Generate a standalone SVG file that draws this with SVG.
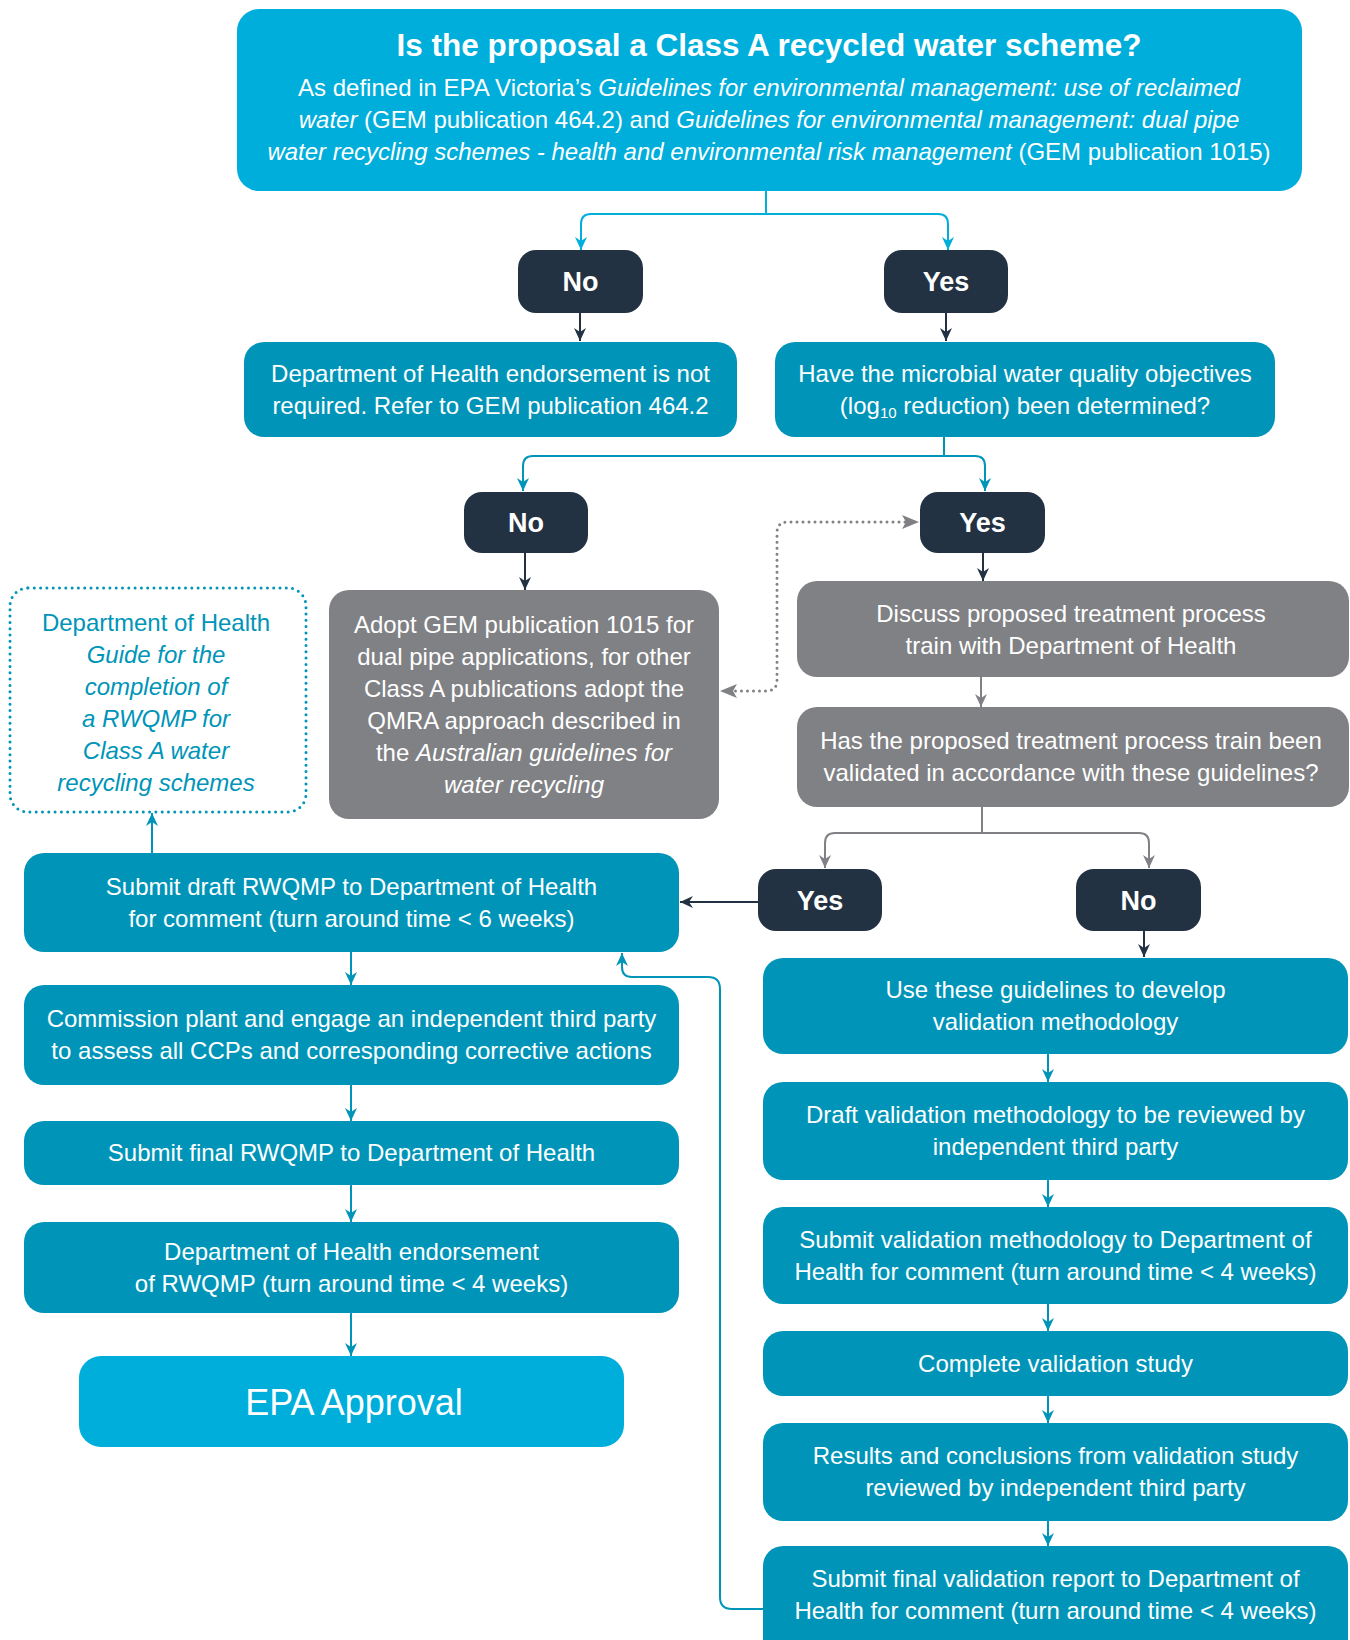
<svg xmlns="http://www.w3.org/2000/svg" width="1350" height="1640" viewBox="0 0 1350 1640">
<defs>
<style>
text{font-family:"Liberation Sans",Arial,Helvetica,sans-serif;fill:#fff;text-anchor:middle}
.b{font-size:24px}
.t{font-size:31.5px;font-weight:bold}
.yn{font-size:27px;font-weight:bold}
.i{font-style:italic}
.cyan{fill:#00AEDB}
.teal{fill:#0095B8}
.dark{fill:#233242}
.gray{fill:#808184}
.lc{fill:none;stroke:#00AEDB;stroke-width:2}
.lt{fill:none;stroke:#0095B8;stroke-width:2}
.ld{fill:none;stroke:#233242;stroke-width:2}
.lg{fill:none;stroke:#808184;stroke-width:2}
.dot{fill:none;stroke:#808184;stroke-width:3;stroke-dasharray:0 6;stroke-linecap:round}
.note{fill:none;stroke:#0095B8;stroke-width:3;stroke-dasharray:0 6.3;stroke-linecap:round}
.nt{fill:#0095B8}
</style>
<marker id="ac" markerUnits="userSpaceOnUse" markerWidth="13" markerHeight="14" refX="13" refY="7" orient="auto"><path d="M0,1 L13,7 L0,13 L4,7 Z" fill="#00AEDB"/></marker>
<marker id="at" markerUnits="userSpaceOnUse" markerWidth="13" markerHeight="14" refX="13" refY="7" orient="auto"><path d="M0,1 L13,7 L0,13 L4,7 Z" fill="#0095B8"/></marker>
<marker id="ad" markerUnits="userSpaceOnUse" markerWidth="13" markerHeight="14" refX="13" refY="7" orient="auto"><path d="M0,1 L13,7 L0,13 L4,7 Z" fill="#233242"/></marker>
<marker id="ag" markerUnits="userSpaceOnUse" markerWidth="13" markerHeight="14" refX="13" refY="7" orient="auto"><path d="M0,1 L13,7 L0,13 L4,7 Z" fill="#808184"/></marker>
<marker id="agb" markerUnits="userSpaceOnUse" markerWidth="17" markerHeight="16" refX="17" refY="8" orient="auto"><path d="M0,1 L17,8 L0,15 L4,8 Z" fill="#808184"/></marker>
</defs>
<rect width="1350" height="1640" fill="#fff"/>

<g id="connectors">
<path class="lc" d="M766,191 V214 M766,214 H591 Q581,214 581,224 V250" marker-end="url(#ac)"/>
<path class="lc" d="M766,214 H938 Q948,214 948,224 V250" marker-end="url(#ac)"/>
<path class="ld" d="M580,313 V341" marker-end="url(#ad)"/>
<path class="ld" d="M946,313 V341" marker-end="url(#ad)"/>
<path class="lt" d="M944,437 V456 M944,456 H533 Q523,456 523,466 V491" marker-end="url(#at)"/>
<path class="lt" d="M944,456 H975 Q985,456 985,466 V491" marker-end="url(#at)"/>
<path class="ld" d="M525,553 V590" marker-end="url(#ad)"/>
<path class="ld" d="M983,553 V581" marker-end="url(#ad)"/>
<path class="dot" d="M905,522 H788 Q777,522 777,533 V680 Q777,691 766,691 H735"/>
<path d="M905,522 H919" stroke="none" fill="none" marker-end="url(#agb)"/>
<path d="M735,691 H720" stroke="none" fill="none" marker-end="url(#agb)"/>
<path class="lg" d="M981,677 V707" marker-end="url(#ag)"/>
<path class="lg" d="M982,807 V833 M982,833 H835 Q825,833 825,843 V868" marker-end="url(#ag)"/>
<path class="lg" d="M982,833 H1139 Q1149,833 1149,843 V868" marker-end="url(#ag)"/>
<path class="ld" d="M758,902 H680" marker-end="url(#ad)"/>
<path class="ld" d="M1144,931 V957" marker-end="url(#ad)"/>
<path class="lt" d="M152,853 V813" marker-end="url(#at)"/>
<path class="lt" d="M351,952 V985" marker-end="url(#at)"/>
<path class="lt" d="M351,1085 V1121" marker-end="url(#at)"/>
<path class="lt" d="M351,1185 V1222" marker-end="url(#at)"/>
<path class="lt" d="M351,1313 V1356" marker-end="url(#at)"/>
<path class="lt" d="M1048,1054 V1082" marker-end="url(#at)"/>
<path class="lt" d="M1048,1180 V1207" marker-end="url(#at)"/>
<path class="lt" d="M1048,1304 V1331" marker-end="url(#at)"/>
<path class="lt" d="M1048,1396 V1423" marker-end="url(#at)"/>
<path class="lt" d="M1048,1521 V1546" marker-end="url(#at)"/>
<path class="lt" d="M763,1609 H732 Q720,1609 720,1597 V989 Q720,977 708,977 H632 Q622,977 622,967 V953" marker-end="url(#at)"/>
</g>

<g id="q1">
<rect class="cyan" x="237" y="9" width="1065" height="182" rx="22"/>
<text class="t" x="769" y="56">Is the proposal a Class A recycled water scheme?</text>
<text class="b" x="769" y="96">As defined in EPA Victoria’s <tspan class="i">Guidelines for environmental management: use of reclaimed</tspan></text>
<text class="b" x="769" y="128"><tspan class="i">water</tspan> (GEM publication 464.2) and <tspan class="i">Guidelines for environmental management: dual pipe</tspan></text>
<text class="b" x="769" y="160"><tspan class="i">water recycling schemes - health and environmental risk management</tspan> (GEM publication 1015)</text>
</g>

<g id="no1"><rect class="dark" x="518" y="250" width="125" height="63" rx="18"/><text class="yn" x="580.5" y="291">No</text></g>
<g id="yes1"><rect class="dark" x="884" y="250" width="124" height="63" rx="18"/><text class="yn" x="946" y="291">Yes</text></g>

<g id="notreq">
<rect class="teal" x="244" y="342" width="493" height="95" rx="20"/>
<text class="b" x="490.5" y="382">Department of Health endorsement is not</text>
<text class="b" x="490.5" y="414">required. Refer to GEM publication 464.2</text>
</g>

<g id="q2">
<rect class="teal" x="775" y="342" width="500" height="95" rx="20"/>
<text class="b" x="1025" y="382">Have the microbial water quality objectives</text>
<text class="b" x="1025" y="414">(log<tspan font-size="15" dy="4">10</tspan><tspan dy="-4"> reduction) been determined?</tspan></text>
</g>

<g id="no2"><rect class="dark" x="464" y="492" width="124" height="61" rx="18"/><text class="yn" x="526" y="532">No</text></g>
<g id="yes2"><rect class="dark" x="920" y="492" width="125" height="61" rx="18"/><text class="yn" x="982.5" y="532">Yes</text></g>

<g id="adopt">
<rect class="gray" x="329" y="590" width="390" height="229" rx="20"/>
<text class="b" x="524" y="633">Adopt GEM publication 1015 for</text>
<text class="b" x="524" y="665">dual pipe applications, for other</text>
<text class="b" x="524" y="697">Class A publications adopt the</text>
<text class="b" x="524" y="729">QMRA approach described in</text>
<text class="b" x="524" y="761">the <tspan class="i">Australian guidelines for</tspan></text>
<text class="b i" x="524" y="793">water recycling</text>
</g>

<g id="guide">
<rect class="note" x="10" y="588" width="296" height="224" rx="18"/>
<text class="b nt" x="156" y="631">Department of Health</text>
<text class="b i nt" x="156" y="663">Guide for the</text>
<text class="b i nt" x="156" y="695">completion of</text>
<text class="b i nt" x="156" y="727">a RWQMP for</text>
<text class="b i nt" x="156" y="759">Class A water</text>
<text class="b i nt" x="156" y="791">recycling schemes</text>
</g>

<g id="discuss">
<rect class="gray" x="797" y="581" width="552" height="96" rx="20"/>
<text class="b" x="1071" y="622">Discuss proposed treatment process</text>
<text class="b" x="1071" y="654">train with Department of Health</text>
</g>

<g id="q3">
<rect class="gray" x="797" y="707" width="552" height="100" rx="20"/>
<text class="b" x="1071" y="749">Has the proposed treatment process train been</text>
<text class="b" x="1071" y="781">validated in accordance with these guidelines?</text>
</g>

<g id="yes3"><rect class="dark" x="758" y="869" width="124" height="62" rx="18"/><text class="yn" x="820" y="910">Yes</text></g>
<g id="no3"><rect class="dark" x="1076" y="869" width="125" height="62" rx="18"/><text class="yn" x="1138.5" y="910">No</text></g>

<g id="draft">
<rect class="teal" x="24" y="853" width="655" height="99" rx="20"/>
<text class="b" x="351.5" y="895">Submit draft RWQMP to Department of Health</text>
<text class="b" x="351.5" y="927">for comment (turn around time &lt; 6 weeks)</text>
</g>
<g id="commission">
<rect class="teal" x="24" y="985" width="655" height="100" rx="20"/>
<text class="b" x="351.5" y="1027">Commission plant and engage an independent third party</text>
<text class="b" x="351.5" y="1059">to assess all CCPs and corresponding corrective actions</text>
</g>
<g id="final">
<rect class="teal" x="24" y="1121" width="655" height="64" rx="20"/>
<text class="b" x="351.5" y="1161">Submit final RWQMP to Department of Health</text>
</g>
<g id="endorse">
<rect class="teal" x="24" y="1222" width="655" height="91" rx="20"/>
<text class="b" x="351.5" y="1260">Department of Health endorsement</text>
<text class="b" x="351.5" y="1292">of RWQMP (turn around time &lt; 4 weeks)</text>
</g>
<g id="epa">
<rect class="cyan" x="79" y="1356" width="545" height="91" rx="22"/>
<text x="354" y="1415" font-size="36">EPA Approval</text>
</g>

<g id="use">
<rect class="teal" x="763" y="958" width="585" height="96" rx="20"/>
<text class="b" x="1055.5" y="998">Use these guidelines to develop</text>
<text class="b" x="1055.5" y="1030">validation methodology</text>
</g>
<g id="draftval">
<rect class="teal" x="763" y="1082" width="585" height="98" rx="20"/>
<text class="b" x="1055.5" y="1123">Draft validation methodology to be reviewed by</text>
<text class="b" x="1055.5" y="1155">independent third party</text>
</g>
<g id="submitval">
<rect class="teal" x="763" y="1207" width="585" height="97" rx="20"/>
<text class="b" x="1055.5" y="1248">Submit validation methodology to Department of</text>
<text class="b" x="1055.5" y="1280">Health for comment (turn around time &lt; 4 weeks)</text>
</g>
<g id="complete">
<rect class="teal" x="763" y="1331" width="585" height="65" rx="20"/>
<text class="b" x="1055.5" y="1372">Complete validation study</text>
</g>
<g id="results">
<rect class="teal" x="763" y="1423" width="585" height="98" rx="20"/>
<text class="b" x="1055.5" y="1464">Results and conclusions from validation study</text>
<text class="b" x="1055.5" y="1496">reviewed by independent third party</text>
</g>
<g id="finalval">
<rect class="teal" x="763" y="1546" width="585" height="120" rx="20"/>
<text class="b" x="1055.5" y="1587">Submit final validation report to Department of</text>
<text class="b" x="1055.5" y="1619">Health for comment (turn around time &lt; 4 weeks)</text>
</g>
</svg>
